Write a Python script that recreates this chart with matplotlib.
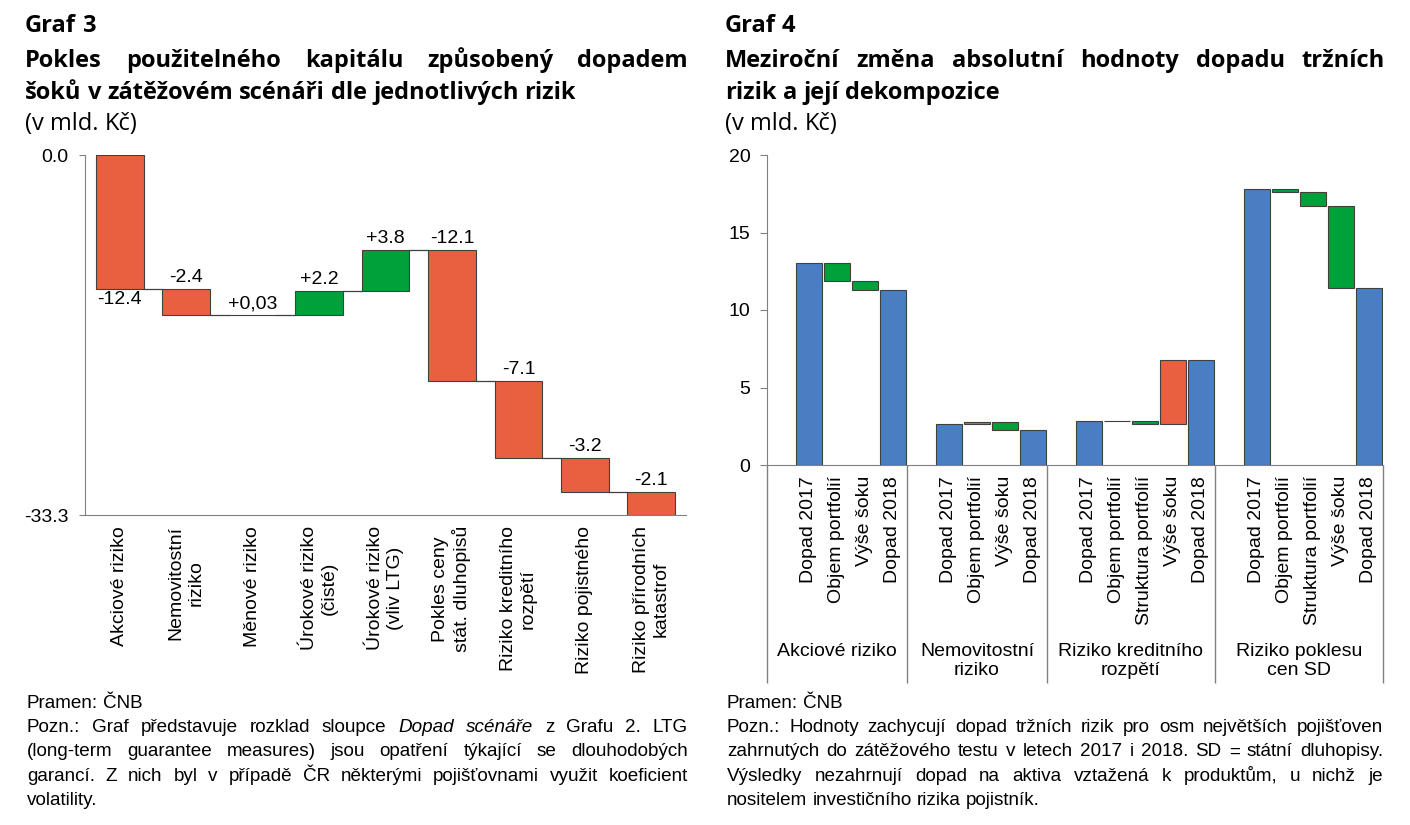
import matplotlib
matplotlib.use('Agg')
import numpy as np
import matplotlib.pyplot as plt

# ---- data: Graf 3 (waterfall of capital decline by risk)
risk_labels = ['Akciové riziko', 'Nemovitostní\nriziko', 'Měnové riziko',
               'Úrokové riziko\n(čisté)', 'Úrokové riziko\n(vliv LTG)',
               'Pokles ceny\nstát. dluhopisů', 'Riziko kreditního\nrozpětí',
               'Riziko pojistného', 'Riziko přírodních\nkatastrof']
risk_impact = [-12.4, -2.4, 0.03, 2.2, 3.8, -12.1, -7.1, -3.2, -2.1]
risk_text = ['-12.4', '-2.4', '+0,03', '+2.2', '+3.8', '-12.1', '-7.1', '-3.2', '-2.1']

# ---- data: Graf 4 (year-on-year change of market risk impact)
groups = ['Akciové riziko', 'Nemovitostní\nriziko', 'Riziko kreditního\nrozpětí',
          'Riziko poklesu\ncen SD']
impact_2017 = [13.03, 2.66, 2.87, 17.79]
step_names = [['Objem portfolií', 'Výše šoku'],
              ['Objem portfolií', 'Výše šoku'],
              ['Objem portfolií', 'Struktura portfolií', 'Výše šoku'],
              ['Objem portfolií', 'Struktura portfolií', 'Výše šoku']]
step_values = [[-1.15, -0.58],
               [0.11, -0.50],
               [-0.03, -0.20, 4.11],
               [-0.19, -0.86, -5.31]]

RED = '#E8603F'
GREEN = '#00A13A'
BLUE = '#4A7EC2'
EDGE = '#404040'
AXC = '#808080'

W, H = 1410, 825
plt.rcParams['font.family'] = ['Liberation Sans', 'DejaVu Sans']
fig = plt.figure(figsize=(W / 100, H / 100), dpi=100)
rend = fig.canvas.get_renderer()


def px_axes(x0, y0, x1, y1):
    return fig.add_axes([x0 / W, 1 - y1 / H, (x1 - x0) / W, (y1 - y0) / H])


def text_width(s, **kw):
    t = fig.text(0, 0, s, **kw)
    w = t.get_window_extent(rend).width
    t.remove()
    return w


def put_line(x0, x1, y, line, justify, **kw):
    # one text per word so that justified lines fill the column width
    items = []
    for w in line.split():
        style = 'normal'
        if w.startswith('_') and w.endswith('_'):
            w, style = w[1:-1], 'italic'
        t = fig.text(0, 1 - y / H, w, style=style, ha='left', va='baseline', **kw)
        items.append((t, t.get_window_extent(rend).width))
    total = sum(wd for _, wd in items)
    if justify and len(items) > 1:
        gap = (x1 - x0 - total) / (len(items) - 1)
    else:
        gap = text_width('a a', **kw) - text_width('aa', **kw)
    x = x0
    for t, wd in items:
        t.set_x(x / W)
        x += wd + gap


# ---------------- Graf 3
ax = px_axes(85, 155, 686, 515)
n = len(risk_impact)
x = np.arange(n)
ends = np.cumsum(risk_impact)
starts = ends - np.array(risk_impact)
colors = [RED if v < 0 else GREEN for v in risk_impact]
bw = 0.72
ax.bar(x, risk_impact, bottom=starts, width=bw, color=colors, edgecolor=EDGE, linewidth=0.8, zorder=3)
for i in range(n - 1):
    ax.plot([i + bw / 2, i + 1 - bw / 2], [ends[i], ends[i]], color=EDGE, lw=0.9, zorder=2)
for i in range(n):
    top = max(starts[i], ends[i])
    if i == 0:
        ax.annotate(risk_text[i], (i, ends[i]), xytext=(0, -1), textcoords='offset points',
                    ha='center', va='top', fontsize=14)
    else:
        ax.annotate(risk_text[i], (i, top), xytext=(0, 2), textcoords='offset points',
                    ha='center', va='bottom', fontsize=14)
ax.set_xlim(-0.52, n - 0.48)
ax.set_ylim(ends[-1], 0)
ax.set_yticks([0, ends[-1]])
ax.set_yticklabels(['%.1f' % v for v in [0, ends[-1]]], fontsize=14)
ax.set_xticks(x)
ax.set_xticklabels(risk_labels, rotation=90, ha='center', va='top', multialignment='center', fontsize=14)
ax.tick_params(axis='x', length=0, pad=8)
ax.tick_params(axis='y', length=4, color=AXC, pad=8)
for s in ['top', 'right']:
    ax.spines[s].set_visible(False)
for s in ['left', 'bottom']:
    ax.spines[s].set_color(AXC)

# ---------------- Graf 4
ax2 = px_axes(767, 155, 1383, 465)
pos = 0
bounds = [-0.5]
tick_pos, tick_lab = [], []
for g in range(len(groups)):
    pos += 1
    level = impact_2017[g]
    ax2.bar(pos, level, width=0.9, color=BLUE, edgecolor=EDGE, linewidth=0.8, zorder=3)
    tick_pos.append(pos); tick_lab.append('Dopad 2017')
    for name, v in zip(step_names[g], step_values[g]):
        pos += 1
        ax2.bar(pos, v, bottom=level, width=0.9, color=RED if v > 0 else GREEN,
                edgecolor=EDGE, linewidth=0.8, zorder=3)
        level += v
        tick_pos.append(pos); tick_lab.append(name)
    pos += 1
    ax2.bar(pos, level, width=0.9, color=BLUE, edgecolor=EDGE, linewidth=0.8, zorder=3)
    tick_pos.append(pos); tick_lab.append('Dopad 2018')
    pos += 1
    bounds.append(pos - 0.5)

ax2.set_xlim(bounds[0], bounds[-1])
ax2.set_ylim(0, 20)
ax2.set_yticks([0, 5, 10, 15, 20])
ax2.tick_params(axis='y', length=5, color=AXC, pad=7, labelsize=14)
ax2.set_xticks(tick_pos)
ax2.set_xticklabels(tick_lab, rotation=90, ha='center', va='top', fontsize=14)
ax2.tick_params(axis='x', length=0, pad=8)
trans = ax2.get_xaxis_transform()
ax2.vlines(bounds, -0.703, 0, transform=trans, clip_on=False, color=AXC, lw=1)
for g in range(len(groups)):
    ax2.text((bounds[g] + bounds[g + 1]) / 2, -0.575, groups[g], transform=trans,
             ha='center', va='top', multialignment='center', fontsize=14, linespacing=1.1)
for s in ['top', 'right']:
    ax2.spines[s].set_visible(False)
for s in ['left', 'bottom']:
    ax2.spines[s].set_color(AXC)

# ---------------- titles
tkw = dict(family=['Open Sans', 'DejaVu Sans'], fontsize=17)
title_rows = [32, 67, 99, 130]
put_line(25, 688, title_rows[0], 'Graf 3', False, fontweight='bold', **tkw)
put_line(25, 688, title_rows[1], 'Pokles použitelného kapitálu způsobený dopadem', True, fontweight='bold', **tkw)
put_line(25, 688, title_rows[2], 'šoků v zátěžovém scénáři dle jednotlivých rizik', False, fontweight='bold', **tkw)
put_line(25, 688, title_rows[3], '(v mld. Kč)', False, **tkw)

put_line(725, 1385, title_rows[0], 'Graf 4', False, fontweight='bold', **tkw)
put_line(725, 1385, title_rows[1], 'Meziroční změna absolutní hodnoty dopadu tržních', True, fontweight='bold', **tkw)
put_line(725, 1385, title_rows[2], 'rizik a její dekompozice', False, fontweight='bold', **tkw)
put_line(725, 1385, title_rows[3], '(v mld. Kč)', False, **tkw)

# ---------------- notes
note_left = [('Pramen: ČNB', False),
             ('Pozn.: Graf představuje rozklad sloupce _Dopad_ _scénáře_ z Grafu 2. LTG', True),
             ('(long-term guarantee measures) jsou opatření týkající se dlouhodobých', True),
             ('garancí. Z nich byl v případě ČR některými pojišťovnami využit koeficient', True),
             ('volatility.', False)]
note_right = [('Pramen: ČNB', False),
              ('Pozn.: Hodnoty zachycují dopad tržních rizik pro osm největších pojišťoven', True),
              ('zahrnutých do zátěžového testu v letech 2017 i 2018. SD = státní dluhopisy.', True),
              ('Výsledky nezahrnují dopad na aktiva vztažená k produktům, u nichž je', True),
              ('nositelem investičního rizika pojistník.', False)]
for k, (line, j) in enumerate(note_left):
    put_line(27, 688, 708 + 24.2 * k, line, j, fontsize=13.6)
for k, (line, j) in enumerate(note_right):
    put_line(727, 1383, 708 + 24.2 * k, line, j, fontsize=13.6)

fig.savefig('out.png', dpi=100)
